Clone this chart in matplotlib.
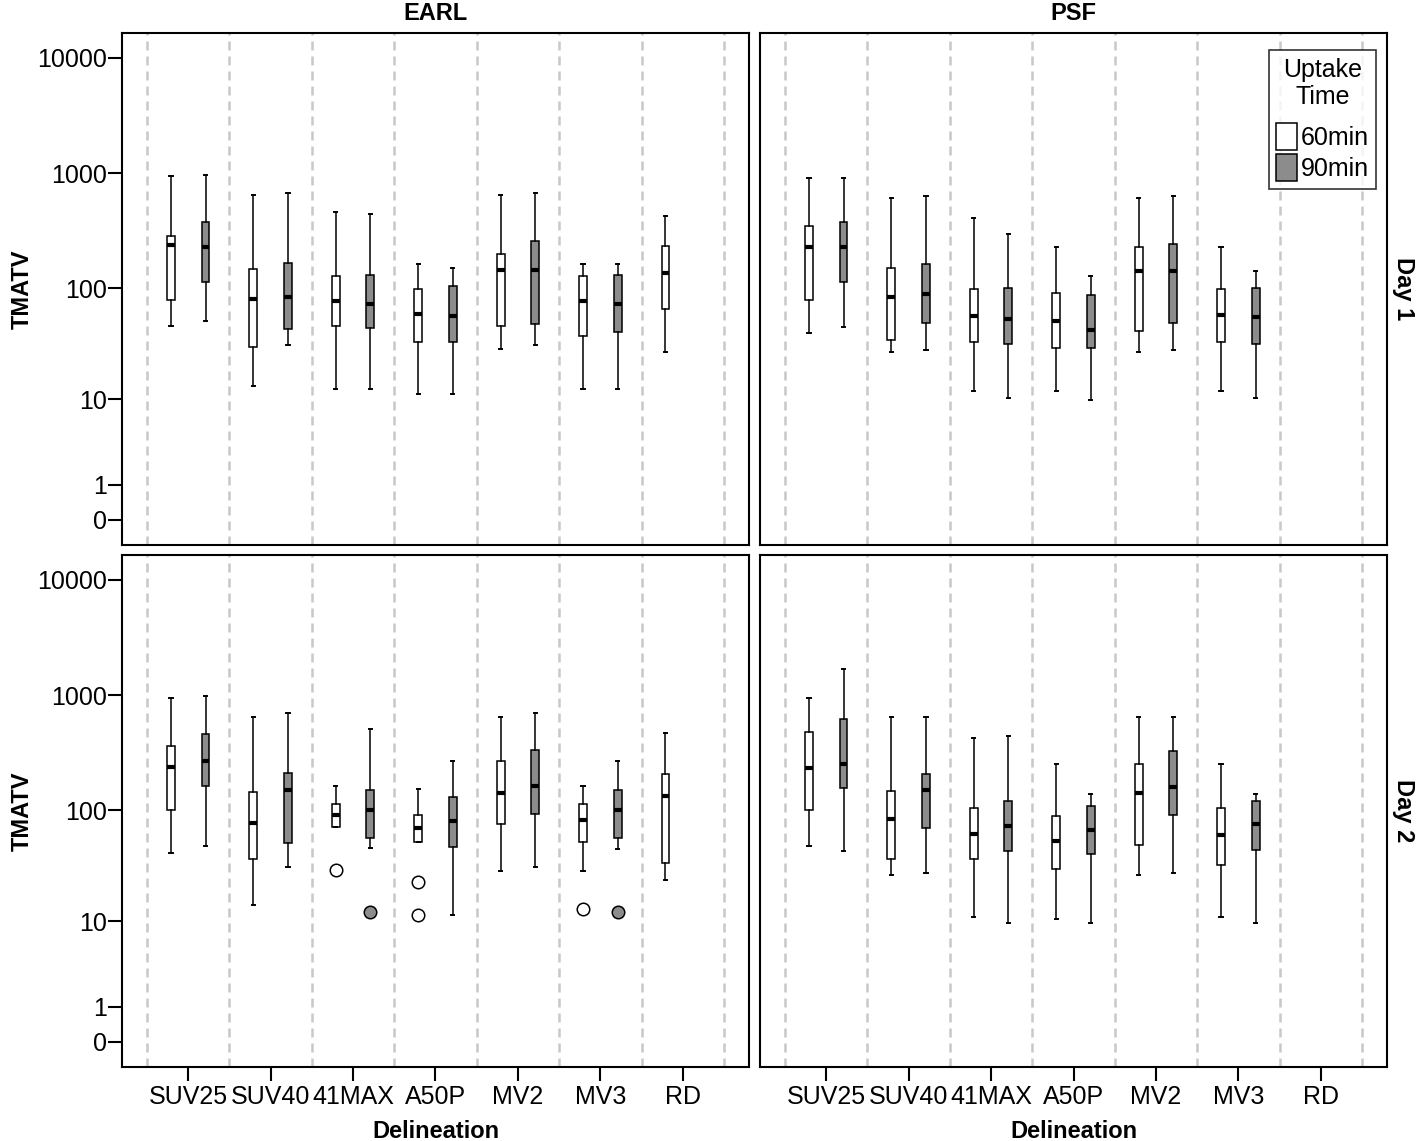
import numpy as np
import matplotlib
matplotlib.use('Agg')
import matplotlib.pyplot as plt
from matplotlib.patches import Patch

plt.rcParams['font.family'] = ['Liberation Sans', 'DejaVu Sans']

categories = ['SUV25', 'SUV40', '41MAX', 'A50P', 'MV2', 'MV3', 'RD']
yticks = [0, 1, 10, 100, 1000, 10000]
col_names = ['EARL', 'PSF']
row_names = ['Day 1', 'Day 2']
times = ['60min', '90min']

# (whisker low, q1, median, q3, whisker high) per delineation, None = no box
earl_day1_60 = [(46, 78, 237, 285, 941), (13.3, 30.5, 80, 148, 645), (12.5, 46, 77, 127, 456),
                (11.3, 33.5, 59, 98, 161), (29, 46, 145, 198, 645), (12.5, 37.6, 77, 127, 161),
                (27.5, 66, 136, 235, 427)]
earl_day1_90 = [(51, 114, 228, 374, 968), (31.4, 43.5, 83, 165, 674), (12.5, 45, 72, 129, 443),
                (11.3, 33.3, 57, 105, 149), (31.4, 48.5, 145, 256, 674), (12.5, 41.4, 72, 129, 161),
                None]
psf_day1_60 = [(40.5, 79, 227, 345, 907), (27.5, 35, 83, 151, 606), (11.9, 33.3, 57, 97.6, 407),
               (11.9, 29.8, 51, 91.5, 227), (27.5, 42, 140, 228, 606), (12, 33.3, 57.7, 97.6, 227),
               None]
psf_day1_90 = [(45.8, 113, 227, 376, 907), (28.5, 49, 89.6, 162, 627), (10.3, 32.3, 54, 101, 297),
               (9.8, 29.7, 43, 87, 128), (28.5, 49.6, 140, 240, 627), (10.3, 32.2, 56, 101, 140),
               None]
earl_day2_60 = [(42, 100, 238, 359, 950), (14.1, 36.8, 77, 143, 648), (71, 71, 90.6, 114, 163),
                (52.8, 52.8, 69, 91, 152), (29, 75.5, 142, 266, 648), (29, 53, 81.6, 114, 163),
                (24.2, 34, 133, 208, 473)]
earl_day2_90 = [(48, 163, 268, 462, 988), (31.2, 51.5, 151, 212, 694), (46.6, 57, 100.6, 150, 503),
                (11.4, 47, 80, 129, 266), (31.2, 92, 162, 332, 694), (45.5, 56.6, 100.6, 149, 266),
                None]
psf_day2_60 = [(48.4, 101, 235, 476, 944), (26.8, 37, 83.5, 148, 648), (11, 37.4, 61.7, 103.7, 421),
               (10.5, 30, 54, 89.5, 252), (26.8, 49, 141, 252, 648), (11, 33, 61, 103.7, 252),
               None]
psf_day2_90 = [(43.7, 157, 254, 623, 1677), (28.1, 70, 149, 205, 643), (9.6, 43.4, 72.6, 121, 441),
               (9.7, 41.4, 66.7, 109, 139), (28.1, 91, 159, 324, 643), (9.6, 44.4, 75, 120, 139),
               None]

# outliers per delineation
earl_day2_60_out = [[], [], [29.3], [23, 11.6], [], [13], []]
earl_day2_90_out = [[], [], [12.2], [], [], [12.2], []]
no_out = [[] for _ in categories]

panels = {
    (0, 0): [(earl_day1_60, no_out), (earl_day1_90, no_out)],
    (0, 1): [(psf_day1_60, no_out), (psf_day1_90, no_out)],
    (1, 0): [(earl_day2_60, earl_day2_60_out), (earl_day2_90, earl_day2_90_out)],
    (1, 1): [(psf_day2_60, no_out), (psf_day2_90, no_out)],
}

faces = ['white', '#8c8c8c']
offsets = [-0.21, 0.21]


def fwd(v):
    with np.errstate(divide='ignore', invalid='ignore'):
        return np.log10(np.asarray(v, dtype=float) + 1)


def inv(v):
    return 10 ** np.asarray(v, dtype=float) - 1


W, H = 1418, 1141
fig = plt.figure(figsize=(W / 100, H / 100), dpi=100)

lefts = [122, 760]
tops = [33, 555]
aw, ah = 627, 512

for (r, c), series in panels.items():
    ax = fig.add_axes([lefts[c] / W, 1 - (tops[r] + ah) / H, aw / W, ah / H])
    ax.set_yscale('function', functions=(fwd, inv))
    ax.set_ylim(inv(-0.22), inv(4.213))
    ax.set_xlim(-0.5 - 25 / 82.3, 6.5 + 25 / 82.3)

    for x in np.arange(-0.5, 7, 1.0):
        ax.axvline(x, color='#c8c8c8', lw=1.8, ls=(0, (3.6, 2.4)), zorder=0)

    for k, (data, outs) in enumerate(series):
        stats, pos = [], []
        for i, s in enumerate(data):
            if s is None:
                continue
            lo, q1, med, q3, hi = s
            stats.append(dict(whislo=lo, q1=q1, med=med, q3=q3, whishi=hi, fliers=outs[i]))
            pos.append(i + offsets[k])
        ax.bxp(stats, positions=pos, widths=0.095, capwidths=0.04, patch_artist=True,
               showfliers=True, manage_ticks=False,
               boxprops=dict(facecolor=faces[k], edgecolor='black', linewidth=1.1),
               medianprops=dict(color='black', linewidth=3),
               whiskerprops=dict(color='black', linewidth=1.1),
               capprops=dict(color='black', linewidth=1.4),
               flierprops=dict(marker='o', markerfacecolor=faces[k], markeredgecolor='black',
                               markersize=9, markeredgewidth=1.1))

    for sp in ax.spines.values():
        sp.set_linewidth(1.5)

    if c == 0:
        ax.set_yticks(yticks)
        ax.set_yticklabels([str(t) for t in yticks])
        ax.tick_params(axis='y', length=10, width=1.5, pad=1, labelsize=18)
    else:
        ax.set_yticks([])
    ax.minorticks_off()
    if c == 1:
        ax.tick_params(axis='y', which='both', left=False, labelleft=False)

    if r == 1:
        ax.set_xticks(range(len(categories)))
        ax.set_xticklabels(categories)
        ax.tick_params(axis='x', length=10, width=1.5, pad=3, labelsize=18)
    else:
        ax.set_xticks([])

    if r == 0 and c == 1:
        handles = [Patch(facecolor=f, edgecolor='black', linewidth=1.1) for f in faces]
        leg = ax.legend(handles, times, title='Uptake\nTime', loc='upper right',
                        bbox_to_anchor=(1 - 11 / aw, 1 - 17 / ah), fontsize=18,
                        title_fontsize=18, frameon=True, fancybox=False, edgecolor='black',
                        handlelength=0.85, handleheight=1.3, handletextpad=0.12,
                        borderpad=0.3, labelspacing=0.15, borderaxespad=0)
        leg.get_frame().set_linewidth(1.2)
        leg.get_title().set_multialignment('center')
        leg._legend_box.sep = 10

# strip and axis titles
for c, name in enumerate(col_names):
    xc = (lefts[c] + aw / 2) / W
    fig.text(xc, 1 - 14 / H, name, ha='center', va='center', fontsize=17, fontweight='bold')
    fig.text(xc, 1 - 1131 / H, 'Delineation', ha='center', va='center', fontsize=17,
             fontweight='bold')
for r, name in enumerate(row_names):
    yc = 1 - (tops[r] + ah / 2) / H
    fig.text(1403 / W, yc, name, ha='center', va='center', rotation=270, fontsize=17,
             fontweight='bold')
    fig.text(22 / W, yc, 'TMATV', ha='center', va='center', rotation=90, fontsize=17,
             fontweight='bold')

fig.savefig('out.png', dpi=100)
